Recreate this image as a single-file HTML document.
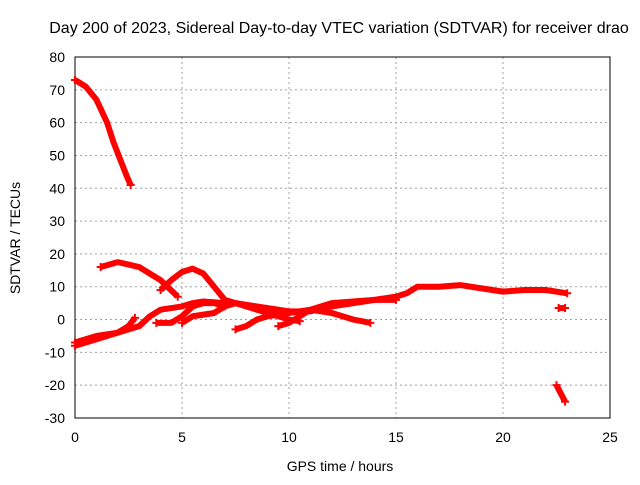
<!DOCTYPE html>
<html><head><meta charset="utf-8"><style>
body{margin:0;background:#fff}
svg text{font-family:"Liberation Sans",sans-serif;font-size:14px;fill:#000}
</style></head><body>
<svg id="c" width="640" height="480"></svg>
<script>
const xTicks=[0,5,10,15,20,25];
const yTicks=[-30,-20,-10,0,10,20,30,40,50,60,70,80];
const trackA=[[0,73],[0.5,71],[1,67],[1.5,60],[1.8,54],[2.1,49],[2.4,44],[2.6,41]];
const trackB=[[1.2,16],[2,17.5],[3,16],[4,12],[4.8,7]];
const trackC=[[4,9],[4.5,12],[5,14.5],[5.5,15.5],[6,14],[6.5,10],[7,6],[7.5,5],[8.5,4],[10,2.5],[11,2.5],[12,4],[13,5],[14,6],[15,7],[15.5,8],[16,10],[17,10],[18,10.5],[19,9.5],[20,8.5],[21,9],[22,9],[23,8]];
const trackD=[[0,-7],[1,-5],[2,-4],[3,-2],[3.5,1],[4,3],[5,4],[5.5,5],[6,5.5],[7,5]];
const trackE=[[0,-8],[1,-6],[2,-4],[2.5,-2],[2.8,0.5]];
const trackF=[[3.8,-1],[4.5,-1],[5,1],[5.5,4],[6,5],[6.5,5],[7,4]];
const trackG=[[5,-1],[5.5,1],[6,1.5],[6.5,2],[7,4],[7.5,5],[8,4],[9,2],[10,0],[10.5,-0.5]];
const trackH=[[7.5,-3],[8,-2],[8.5,0],[9,1],[10,2],[11,3],[12,2],[13,0],[13.8,-1]];
const trackI=[[9.5,-2],[10,-1],[10.5,1],[11,3],[12,5],[13,5.5],[14,6],[15,6]];
const trackJ=[[22.5,-20],[22.9,-25]];
const trackK=[[22.6,3.5],[22.9,3.5]];
const tracks=[trackA,trackB,trackC,trackD,trackE,trackF,trackG,trackH,trackI,trackJ,trackK];
const X0=75,X1=610,Y0=418,Y1=57;
const sx=v=>X0+(v-0)/(25-0)*(X1-X0);
const sy=v=>Y0-(v+30)/(110)*(Y0-Y1);
const svg=document.getElementById('c');const NS='http://www.w3.org/2000/svg';
function mk(t,a,txt){const e=document.createElementNS(NS,t);for(const k in a)e.setAttribute(k,a[k]);if(txt!==undefined)e.textContent=txt;svg.appendChild(e);return e;}
xTicks.forEach(v=>{const x=sx(v);
 if(v>0&&v<25){const g=mk('line',{x1:x,x2:x,y1:Y1,y2:Y0,stroke:'#a0a0a0','stroke-dasharray':'2,3'});
 
 }
 const t=mk('text',{x:x,y:Y0+24,'text-anchor':'middle'},v);
 
 });
yTicks.forEach(v=>{const y=sy(v);
 if(v>-30&&v<80){const g=mk('line',{x1:X0,x2:X1,y1:y,y2:y,stroke:'#a0a0a0','stroke-dasharray':'2,3'});
 
 }
 const t=mk('text',{x:X0-10,y:y+5,'text-anchor':'end'},v);
 
 });
const fr=mk('rect',{x:X0,y:Y1,width:X1-X0,height:Y0-Y1,fill:'none',stroke:'#000'});


tracks.forEach(tr=>{
 const p=mk('polyline',{points:tr.map(d=>sx(d[0])+','+sy(d[1])).join(' '),fill:'none',stroke:'#ff0000','stroke-width':6,'stroke-linejoin':'round'});
 
 
 [tr[0],tr[tr.length-1]].forEach(d=>{const m=mk('path',{d:`M${sx(d[0])-4},${sy(d[1])}h8M${sx(d[0])},${sy(d[1])-4}v8`,stroke:'#ff0000','stroke-width':2});
 
 });
});
const ti=mk('text',{x:339,y:33,'text-anchor':'middle','font-size':'16'},'Day 200 of 2023, Sidereal Day-to-day VTEC variation (SDTVAR) for receiver drao');
ti.setAttribute('style','font-size:16px');


const xl=mk('text',{x:340,y:471,'text-anchor':'middle'},'GPS time / hours');


const yl=mk('text',{x:0,y:0,'text-anchor':'middle',transform:'translate(20,238) rotate(-90)'},'SDTVAR / TECUs');


</script>
</body></html>
